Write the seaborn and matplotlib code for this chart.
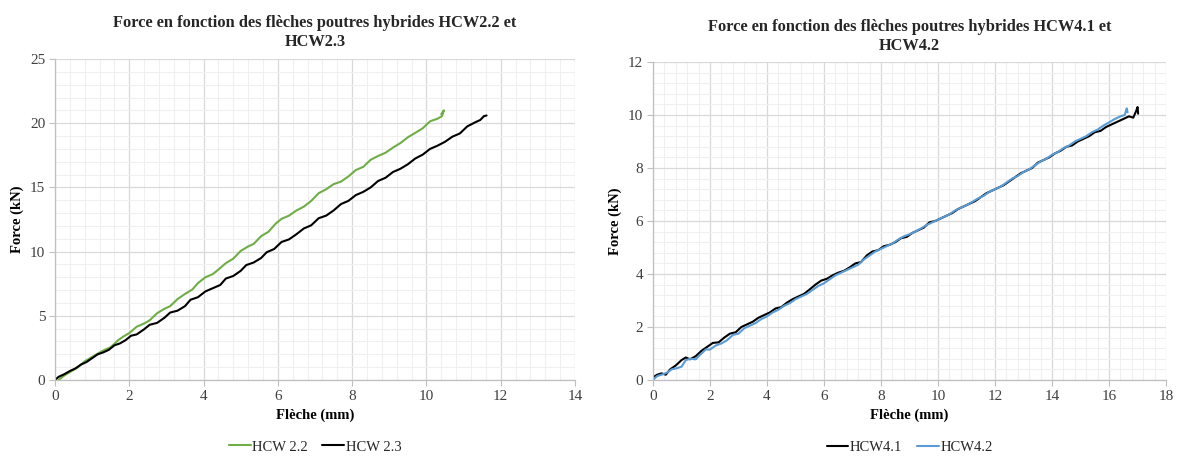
import matplotlib
matplotlib.use("Agg")
import matplotlib.pyplot as plt
import seaborn as sns
import pandas as pd
from matplotlib.ticker import MultipleLocator

# ---------------- data ----------------
hcw22_x = [0.10, 0.25, 0.45, 0.60, 0.80, 1.00, 1.15, 1.30, 1.50, 1.70, 1.85, 2.00, 2.20, 2.40, 2.55, 2.75,
           2.95, 3.10, 3.30, 3.50, 3.70, 3.85, 4.05, 4.25, 4.40, 4.60, 4.80, 5.00, 5.20, 5.35, 5.55, 5.75,
           5.95, 6.10, 6.30, 6.50, 6.70, 6.90, 7.10, 7.30, 7.50, 7.70, 7.90, 8.10, 8.30, 8.50, 8.70, 8.90,
           9.10, 9.30, 9.50, 9.70, 9.90, 10.10, 10.30, 10.42, 10.47, 10.40]
hcw22_y = [0.00, 0.35, 0.70, 0.95, 1.45, 1.80, 2.05, 2.30, 2.55, 3.10, 3.40, 3.65, 4.15, 4.40, 4.65, 5.20,
           5.55, 5.75, 6.30, 6.70, 7.05, 7.55, 8.00, 8.25, 8.60, 9.10, 9.45, 10.05, 10.40, 10.60, 11.20, 11.55,
           12.20, 12.55, 12.80, 13.20, 13.50, 13.95, 14.55, 14.85, 15.25, 15.45, 15.85, 16.35, 16.60, 17.15, 17.45, 17.70,
           18.10, 18.45, 18.90, 19.25, 19.60, 20.15, 20.35, 20.55, 21.00, 20.70]

hcw23_x = [0.00, 0.10, 0.25, 0.40, 0.55, 0.70, 0.85, 1.00, 1.15, 1.30, 1.45, 1.60, 1.75, 1.90, 2.05, 2.20,
           2.40, 2.55, 2.75, 2.95, 3.10, 3.30, 3.50, 3.65, 3.85, 4.05, 4.25, 4.45, 4.60, 4.80, 5.00, 5.15,
           5.35, 5.55, 5.70, 5.90, 6.10, 6.30, 6.50, 6.70, 6.90, 7.10, 7.30, 7.50, 7.70, 7.90, 8.10, 8.30,
           8.50, 8.70, 8.90, 9.10, 9.30, 9.50, 9.70, 9.90, 10.10, 10.30, 10.50, 10.70, 10.90, 11.10, 11.30, 11.45,
           11.55, 11.62]
hcw23_y = [0.00, 0.25, 0.45, 0.70, 0.90, 1.20, 1.40, 1.70, 2.00, 2.15, 2.35, 2.70, 2.85, 3.10, 3.45, 3.55,
           3.95, 4.30, 4.45, 4.85, 5.25, 5.40, 5.75, 6.25, 6.45, 6.90, 7.15, 7.40, 7.90, 8.10, 8.50, 8.95,
           9.15, 9.50, 9.95, 10.20, 10.75, 10.95, 11.35, 11.80, 12.05, 12.60, 12.80, 13.20, 13.70, 13.95, 14.40, 14.65,
           15.00, 15.50, 15.75, 16.20, 16.45, 16.80, 17.25, 17.55, 18.00, 18.25, 18.55, 18.95, 19.20, 19.75, 20.05, 20.25,
           20.55, 20.60]

hcw41_x = [0.00, 0.15, 0.30, 0.45, 0.60, 0.80, 1.00, 1.15, 1.30, 1.50, 1.70, 1.90, 2.10, 2.30, 2.50, 2.70,
           2.90, 3.10, 3.30, 3.50, 3.70, 3.90, 4.10, 4.30, 4.50, 4.70, 4.90, 5.10, 5.30, 5.50, 5.70, 5.90,
           6.10, 6.30, 6.50, 6.70, 6.90, 7.10, 7.30, 7.50, 7.70, 7.90, 8.10, 8.30, 8.50, 8.70, 8.90, 9.10,
           9.30, 9.50, 9.70, 9.90, 10.10, 10.30, 10.50, 10.70, 10.90, 11.10, 11.30, 11.50, 11.70, 11.90, 12.10, 12.30,
           12.50, 12.70, 12.90, 13.10, 13.30, 13.50, 13.70, 13.90, 14.10, 14.30, 14.50, 14.70, 14.90, 15.10, 15.30, 15.50,
           15.70, 15.90, 16.10, 16.30, 16.50, 16.70, 16.85, 16.95, 17.00, 17.02]
hcw41_y = [0.10, 0.20, 0.25, 0.20, 0.40, 0.55, 0.75, 0.85, 0.78, 0.90, 1.10, 1.25, 1.40, 1.42, 1.60, 1.75,
           1.80, 2.00, 2.10, 2.20, 2.35, 2.45, 2.55, 2.70, 2.75, 2.92, 3.05, 3.15, 3.25, 3.42, 3.60, 3.75,
           3.82, 3.95, 4.05, 4.12, 4.25, 4.40, 4.45, 4.70, 4.85, 4.90, 5.05, 5.10, 5.20, 5.35, 5.40, 5.55,
           5.65, 5.75, 5.95, 6.00, 6.10, 6.20, 6.30, 6.45, 6.55, 6.65, 6.75, 6.90, 7.05, 7.15, 7.25, 7.35,
           7.50, 7.65, 7.80, 7.90, 8.00, 8.20, 8.30, 8.40, 8.55, 8.65, 8.80, 8.85, 9.00, 9.10, 9.20, 9.35,
           9.40, 9.55, 9.65, 9.75, 9.85, 9.95, 9.90, 10.15, 10.30, 10.05]

hcw42_x = [0.00, 0.15, 0.30, 0.50, 0.65, 0.85, 1.00, 1.15, 1.30, 1.50, 1.65, 1.85, 2.00, 2.20, 2.40, 2.60,
           2.80, 3.00, 3.20, 3.40, 3.60, 3.80, 4.00, 4.20, 4.40, 4.60, 4.80, 5.00, 5.20, 5.40, 5.60, 5.80,
           6.00, 6.20, 6.40, 6.60, 6.80, 7.00, 7.20, 7.40, 7.60, 7.80, 8.00, 8.20, 8.40, 8.60, 8.80, 9.00,
           9.20, 9.40, 9.60, 9.80, 10.00, 10.20, 10.40, 10.60, 10.80, 11.00, 11.20, 11.40, 11.60, 11.80, 12.00, 12.20,
           12.40, 12.60, 12.80, 13.00, 13.20, 13.40, 13.60, 13.80, 14.00, 14.20, 14.40, 14.60, 14.80, 15.00, 15.20, 15.40,
           15.60, 15.80, 16.00, 16.20, 16.40, 16.55, 16.62, 16.65]
hcw42_y = [0.00, 0.15, 0.20, 0.28, 0.40, 0.45, 0.50, 0.75, 0.80, 0.78, 0.95, 1.15, 1.15, 1.30, 1.38, 1.50,
           1.70, 1.75, 1.95, 2.05, 2.15, 2.30, 2.40, 2.55, 2.65, 2.80, 2.90, 3.05, 3.15, 3.25, 3.40, 3.55,
           3.65, 3.80, 3.95, 4.05, 4.15, 4.25, 4.35, 4.55, 4.70, 4.85, 4.95, 5.05, 5.15, 5.30, 5.42, 5.50,
           5.60, 5.72, 5.85, 5.95, 6.05, 6.15, 6.25, 6.40, 6.50, 6.60, 6.72, 6.85, 6.95, 7.10, 7.20, 7.30,
           7.45, 7.60, 7.70, 7.85, 7.95, 8.10, 8.25, 8.35, 8.50, 8.60, 8.75, 8.85, 9.00, 9.10, 9.20, 9.35,
           9.45, 9.60, 9.72, 9.85, 9.95, 10.00, 10.25, 10.10]

titles = ["Force en fonction des flèches poutres hybrides HCW2.2 et\nHCW2.3",
          "Force en fonction des flèches poutres hybrides HCW4.1 et\nHCW4.2"]
x_label = "Flèche (mm)"
y_label = "Force (kN)"

# ---------------- style ----------------
sns.set_theme(style="white")
plt.rcParams['font.family'] = ['Liberation Serif', 'DejaVu Serif']

fig = plt.figure(figsize=(11.77, 4.57), dpi=100)
ax1 = fig.add_axes([0.0467, 0.1685, 0.4418, 0.7024])
ax2 = fig.add_axes([0.5548, 0.1685, 0.4359, 0.6958])

GREEN = "#70AD47"
BLUE = "#5B9BD5"
BLACK = "#000000"

def draw(ax, series, xlim, ylim, xmaj, ymaj, xmin, ymin, title, leg_y):
    for xs, ys, lab, col in series:
        df = pd.DataFrame({"x": xs, "y": ys})
        sns.lineplot(data=df, x="x", y="y", ax=ax, color=col, lw=1.5, sort=False,
                     estimator=None, label=lab)
    ax.set_xlim(*xlim)
    ax.set_ylim(*ylim)
    ax.xaxis.set_major_locator(MultipleLocator(xmaj))
    ax.yaxis.set_major_locator(MultipleLocator(ymaj))
    ax.xaxis.set_minor_locator(MultipleLocator(xmin))
    ax.yaxis.set_minor_locator(MultipleLocator(ymin))
    ax.grid(True, which="major", color="#d9d9d9", lw=0.9)
    ax.grid(True, which="minor", color="#f0f0f0", lw=0.8)
    ax.set_axisbelow(True)
    for s in ["top", "right"]:
        ax.spines[s].set_visible(False)
    for s in ["left", "bottom"]:
        ax.spines[s].set_color("#bfbfbf")
        ax.spines[s].set_linewidth(0.9)
    ax.tick_params(which="major", labelsize=11, colors="#bfbfbf", length=4,
                   width=0.8, bottom=True, left=True, direction="out", pad=3)
    ax.tick_params(which="major", labelcolor="#404040")
    ax.tick_params(which="minor", length=0)
    ax.set_xlabel(x_label, fontsize=10.5, fontweight="bold", color="#000000", labelpad=4)
    ax.set_ylabel(y_label, fontsize=10.5, fontweight="bold", color="#000000", labelpad=4)
    ax.set_title(title, fontsize=11.8, fontweight="bold", pad=9, linespacing=1.25)
    ax.legend(loc="center", bbox_to_anchor=(0.5, leg_y), ncol=2, frameon=False,
              fontsize=10.5, handlelength=1.5, handletextpad=0.1, columnspacing=1.0)

# legend centre at ~447 px from top -> 10 px above bottom
draw(ax1, [(hcw22_x, hcw22_y, "HCW 2.2", GREEN), (hcw23_x, hcw23_y, "HCW 2.3", BLACK)],
     (0, 14), (0, 25), 2, 5, 0.4, 1, titles[0], (10 / 457 - 0.1685) / 0.7024)
draw(ax2, [(hcw41_x, hcw41_y, "HCW4.1", BLACK), (hcw42_x, hcw42_y, "HCW4.2", BLUE)],
     (0, 18), (0, 12), 2, 2, 0.4, 0.4, titles[1], (10 / 457 - 0.1685) / 0.6958)

fig.savefig("out.png", dpi=100, facecolor="white")
